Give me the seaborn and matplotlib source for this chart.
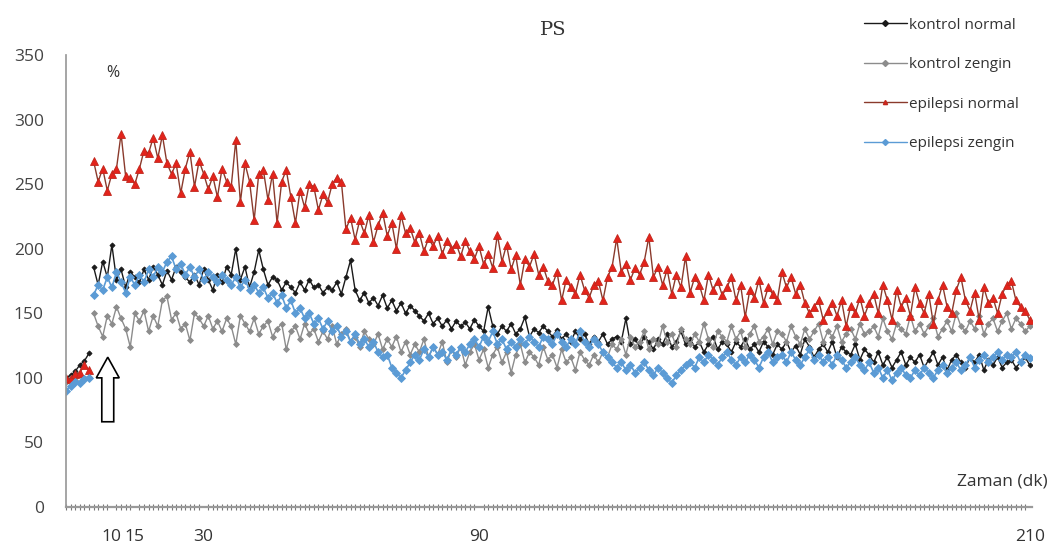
import numpy as np
import pandas as pd
import matplotlib
matplotlib.use("Agg")
import matplotlib.pyplot as plt
import seaborn as sns
from matplotlib.patches import FancyArrow
from matplotlib.lines import Line2D
from matplotlib.ticker import MultipleLocator

# --- data (percent of baseline) ---
series_names = ["kontrol normal", "kontrol zengin", "epilepsi normal", "epilepsi zengin"]
base_minutes = [0, 1, 2, 3, 4, 5]
post_minutes = list(range(6, 211))
x_ticks = [10, 15, 30, 90, 210]
y_ticks = [0, 50, 100, 150, 200, 250, 300, 350]

kontrol_normal_base = [100, 102, 105, 110, 113, 119]
kontrol_normal = [
    186, 172, 190, 178, 203, 176, 184, 170, 182, 178,
    174, 184, 176, 186, 180, 172, 183, 176, 186, 182,
    178, 174, 180, 172, 184, 176, 168, 180, 174, 186,
    180, 200, 176, 186, 170, 182, 199, 184, 172, 178,
    176, 168, 174, 170, 166, 174, 168, 176, 170, 172,
    166, 170, 168, 174, 165, 178, 191, 168, 160, 166,
    158, 162, 156, 164, 154, 160, 152, 158, 150, 156,
    152, 148, 144, 150, 142, 146, 140, 145, 138, 144,
    140, 143, 138, 145, 140, 136, 155, 140, 134, 140,
    136, 142, 134, 138, 147, 132, 138, 135, 140, 136,
    132, 137, 130, 134, 128, 136, 130, 134, 126, 132,
    128, 134, 126, 130, 132, 128, 146, 126, 130, 124,
    132, 128, 122, 130, 126, 134, 124, 128, 136, 126,
    130, 124, 128, 120, 126, 132, 122, 128, 126, 120,
    128, 124, 130, 122, 126, 120, 128, 124, 118, 126,
    122, 128, 120, 125, 118, 130, 124, 116, 122, 126,
    120, 128, 116, 124, 120, 118, 126, 114, 122, 118,
    112, 120, 110, 116, 108, 114, 120, 110, 116, 112,
    118, 108, 114, 120, 110, 116, 106, 114, 118, 112,
    108, 116, 112, 118, 106, 114, 110, 116, 108, 112,
    114, 108, 112, 116, 110,
]

kontrol_zengin_base = [97, 100, 98, 102, 100, 101]
kontrol_zengin = [
    150, 140, 132, 148, 142, 155, 146, 138, 124, 150,
    144, 152, 136, 148, 140, 160, 163, 145, 150, 138,
    142, 129, 150, 146, 140, 148, 138, 144, 136, 146,
    140, 126, 148, 142, 136, 146, 134, 140, 144, 132,
    138, 142, 122, 136, 140, 130, 142, 134, 138, 128,
    136, 130, 140, 126, 134, 138, 128, 132, 124, 136,
    130, 126, 134, 122, 130, 124, 132, 120, 128, 118,
    126, 120, 130, 116, 124, 118, 128, 112, 122, 116,
    124, 110, 120, 126, 114, 122, 108, 118, 124, 112,
    120, 104, 118, 126, 112, 120, 116, 110, 124, 114,
    118, 108, 122, 112, 116, 106, 120, 114, 110, 118,
    112, 120, 116, 126, 122, 130, 118, 132, 124, 128,
    136, 122, 130, 126, 140, 128, 134, 124, 138, 130,
    126, 134, 128, 142, 130, 124, 136, 132, 128, 140,
    130, 136, 124, 134, 140, 128, 132, 138, 126, 136,
    134, 128, 140, 132, 126, 138, 130, 136, 142, 128,
    136, 132, 140, 128, 134, 138, 130, 142, 134, 136,
    140, 132, 146, 136, 130, 142, 138, 134, 148, 136,
    142, 134, 140, 146, 132, 138, 144, 136, 150, 140,
    136, 144, 138, 148, 134, 142, 146, 136, 144, 150,
    138, 146, 142, 136, 140,
]

epilepsi_normal_base = [100, 99, 103, 104, 110, 106]
epilepsi_normal = [
    268, 252, 262, 245, 258, 262, 289, 256, 255, 250,
    262, 276, 274, 286, 270, 288, 266, 258, 266, 243,
    262, 275, 248, 268, 258, 246, 256, 240, 262, 252,
    248, 284, 236, 266, 252, 222, 258, 261, 238, 258,
    220, 252, 261, 240, 220, 245, 232, 250, 248, 230,
    242, 236, 250, 255, 252, 215, 224, 207, 222, 212,
    226, 205, 218, 228, 210, 220, 200, 226, 212, 216,
    205, 212, 198, 208, 202, 210, 196, 206, 200, 204,
    194, 206, 198, 192, 202, 188, 196, 185, 211, 190,
    203, 184, 195, 172, 192, 186, 196, 180, 186, 175,
    172, 182, 160, 176, 170, 165, 180, 168, 162, 172,
    175, 160, 178, 186, 208, 182, 188, 176, 185, 180,
    190, 209, 178, 186, 172, 184, 165, 180, 170, 194,
    166, 178, 172, 160, 180, 168, 175, 164, 170, 178,
    160, 172, 147, 168, 162, 176, 158, 170, 165, 160,
    182, 170, 178, 165, 172, 158, 150, 155, 160, 145,
    152, 158, 148, 160, 140, 156, 150, 162, 148, 158,
    165, 150, 172, 160, 145, 168, 155, 162, 148, 170,
    158, 150, 165, 142, 160, 172, 155, 150, 168, 178,
    160, 152, 166, 145, 170, 158, 162, 150, 165, 172,
    175, 160, 155, 152, 145,
]

epilepsi_zengin_base = [90, 94, 97, 96, 99, 100]
epilepsi_zengin = [
    164, 172, 168, 178, 170, 182, 174, 166, 178, 172,
    180, 174, 184, 178, 186, 182, 190, 194, 184, 188,
    180, 186, 178, 184, 176, 182, 178, 174, 180, 176,
    172, 178, 170, 176, 168, 172, 166, 170, 162, 166,
    158, 164, 154, 160, 150, 154, 146, 150, 142, 146,
    138, 144, 136, 140, 132, 136, 128, 134, 126, 130,
    124, 128, 120, 116, 118, 108, 104, 100, 106, 112,
    118, 114, 122, 116, 124, 118, 120, 114, 122, 118,
    124, 120, 126, 130, 124, 132, 128, 136, 126, 130,
    122, 128, 124, 130, 126, 132, 128, 124, 132, 130,
    126, 134, 128, 124, 130, 126, 136, 128, 124, 130,
    126, 120, 116, 112, 108, 112, 106, 110, 104, 108,
    112, 106, 102, 108, 104, 100, 96, 102, 106, 110,
    112, 108, 116, 112, 118, 114, 110, 116, 120, 114,
    110, 116, 112, 118, 114, 108, 116, 120, 112, 116,
    118, 112, 120, 114, 110, 116, 122, 114, 118, 112,
    116, 110, 118, 114, 108, 112, 116, 110, 106, 112,
    104, 108, 100, 106, 98, 104, 108, 102, 100, 106,
    102, 108, 104, 100, 106, 110, 104, 108, 112, 106,
    110, 116, 108, 114, 118, 112, 116, 120, 114, 118,
    116, 120, 112, 118, 115,
]

bases = [kontrol_normal_base, kontrol_zengin_base, epilepsi_normal_base, epilepsi_zengin_base]
posts = [kontrol_normal, kontrol_zengin, epilepsi_normal, epilepsi_zengin]

rows = []
for name, base, post in zip(series_names, bases, posts):
    assert len(post) == len(post_minutes), (name, len(post))
    for t, v in zip(base_minutes, base):
        rows.append((name, "base", t, v))
    for t, v in zip(post_minutes, post):
        rows.append((name, "post", t, v))
df = pd.DataFrame(rows, columns=["seri", "segment", "dk", "yuzde"])

# line colour, marker, marker size, marker face, marker edge, line width
styles = {
    "kontrol normal": ("#1a1a1a", "D", 2.6, "#1a1a1a", "#1a1a1a", 1.0),
    "kontrol zengin": ("#8c8c8c", "D", 3.0, "#8c8c8c", "#8c8c8c", 1.0),
    "epilepsi normal": ("#8a3a2c", "^", 5.8, "#e3231b", "#c0281e", 1.0),
    "epilepsi zengin": ("#5b9bd5", "D", 3.6, "#5b9bd5", "#5b9bd5", 1.2),
}

sns.set_theme(style="white")
plt.rcParams["font.family"] = ["Open Sans", "DejaVu Sans"]

fig = plt.figure(figsize=(10.63, 5.49), dpi=100)
ax = fig.add_axes([66 / 1063, 1 - 507 / 549, (1032 - 66) / 1063, (507 - 55) / 549])

for name in series_names:
    color, mk, ms, mfc, mec, lw = styles[name]
    sns.lineplot(
        data=df[df["seri"] == name], x="dk", y="yuzde", units="segment",
        estimator=None, color=color, marker=mk, markersize=ms,
        markerfacecolor=mfc, markeredgecolor=mec, markeredgewidth=0.6,
        linewidth=lw, legend=False, ax=ax,
    )

# injection arrow
ax.add_patch(FancyArrow(9.1, 66, 0, 50, width=2.6, head_width=5.0, head_length=16,
                        length_includes_head=True, facecolor="white",
                        edgecolor="black", linewidth=1.2, zorder=10))

ax.set_xlim(0, 210.5)
ax.set_ylim(0, 350)
ax.set_xticks(x_ticks)
ax.set_yticks(y_ticks)
ax.xaxis.set_minor_locator(MultipleLocator(1))
ax.set_xlabel("")
ax.set_ylabel("")
ax.tick_params(axis="x", which="major", direction="inout", length=7, width=1.6,
               color="#333333", labelsize=12.5, labelcolor="#333333", pad=12)
ax.tick_params(axis="x", which="minor", direction="inout", length=5, width=0.8,
               color="#777777", bottom=True)
ax.tick_params(axis="y", which="major", direction="out", length=4, width=0.8,
               color="#888888", labelsize=12.5, labelcolor="#444444", pad=12)

sns.despine(ax=ax)
ax.spines["left"].set_color("#9a9a9a")
ax.spines["bottom"].set_color("#9a9a9a")
ax.spines["bottom"].set_linewidth(1.6)
ax.grid(False)

ax.text(8.7, 336, "%", fontsize=11.5, color="#333333", ha="left", va="center")
fig.text(1048 / 1063, 1 - 482 / 549, "Zaman (dk)", fontsize=12.5, color="#333333",
         ha="right", va="center")
fig.text(553 / 1063, 1 - 30 / 549, "PS", fontsize=14, color="#333333",
         family="DejaVu Serif", ha="center", va="center")

handles = []
for name in series_names:
    color, mk, ms, mfc, mec, lw = styles[name]
    handles.append(Line2D([], [], color=color, marker=mk, markersize=3,
                          markerfacecolor=mfc, markeredgecolor=mec, linewidth=1.0))
fig.legend(handles, series_names, loc="upper left",
           bbox_to_anchor=(850 / 1063, 1 - 4 / 549), frameon=False,
           handlelength=2.8, handletextpad=0.15, labelspacing=1.6,
           fontsize=11, labelcolor="#333333")

fig.savefig("out.png", dpi=100)
plt.close(fig)
